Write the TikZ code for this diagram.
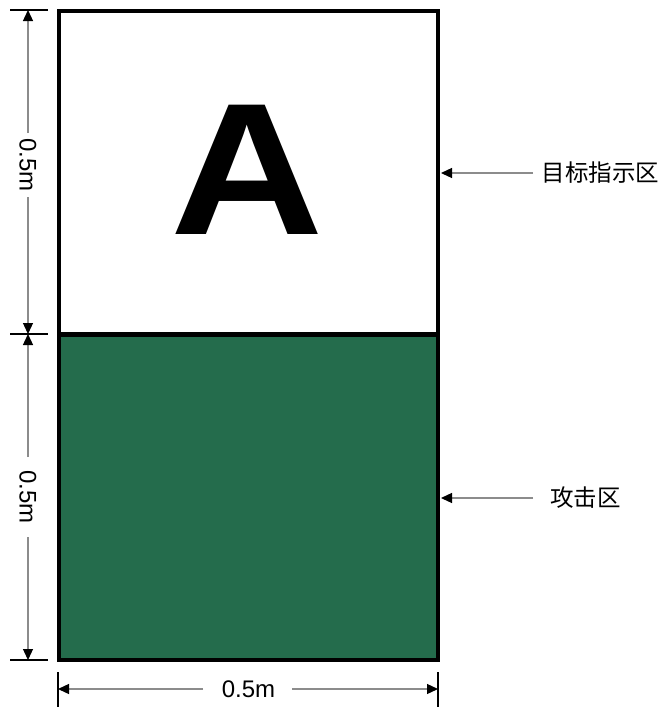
\documentclass[tikz,border=0pt]{standalone}
\usepackage{fontspec}
\setmainfont{Liberation Sans}
\newfontfamily\cjk{Noto Sans CJK SC}
\usetikzlibrary{arrows.meta}
\definecolor{zonegreen}{RGB}{36,108,76}
\definecolor{dimgray}{RGB}{140,140,140}
\tikzset{
  zone/.style={draw=black, line width=4.5pt},
  dimline/.style={draw=dimgray, line width=1.3pt, -{Triangle[length=11pt,width=10pt,color=black]}},
  tick/.style={draw=black, line width=1.6pt},
  dimtext/.style={font=\fontsize{24}{26}\selectfont, inner sep=0pt},
  cjklabel/.style={font=\cjk\fontsize{23.5}{25}\selectfont, inner sep=0pt},
  pointer/.style={draw=dimgray, line width=1.3pt, -{Triangle[length=11pt,width=10pt,color=black]}}
}
\begin{document}
\begin{tikzpicture}[x=1pt,y=-1pt]
\useasboundingbox (0,0) rectangle (664,707);
% corners
\coordinate (tl) at (59,11);
\coordinate (mr) at (438,334.5);
\coordinate (ml) at (59,334.5);
\coordinate (br) at (438,660);
% zones
\fill[white] (tl) rectangle (mr);
\fill[zonegreen] (ml) rectangle (br);
\draw[zone] (tl) rectangle (mr);
\draw[zone] (ml) rectangle (br);
\node[font=\bfseries\fontsize{188}{190}\selectfont, inner sep=0pt, xscale=1.13] (A) at (247,169.5) {A};
% vertical dimension
\coordinate (vt1) at (10,10); \coordinate (vt2) at (48,10);
\coordinate (vm1) at (10,334); \coordinate (vm2) at (48,334);
\coordinate (vb1) at (10,660); \coordinate (vb2) at (48,660);
\draw[tick] (vt1) -- (vt2);
\draw[tick] (vm1) -- (vm2);
\draw[tick] (vb1) -- (vb2);
\node[dimtext, rotate=-90] (d1) at (28,165) {0.5m};
\node[dimtext, rotate=-90] (d2) at (28,497) {0.5m};
\coordinate (v1a) at (28,133); \coordinate (v1b) at (28,197);
\coordinate (v2a) at (28,457); \coordinate (v2b) at (28,537);
\coordinate (vtop) at (28,10); \coordinate (vmid) at (28,334); \coordinate (vbot) at (28,660);
\draw[dimline] (v1a) -- (vtop);
\draw[dimline] (v1b) -- (vmid);
\draw[dimline] (v2a) -- (vmid);
\draw[dimline] (v2b) -- (vbot);
% horizontal dimension
\coordinate (hl1) at (58,672); \coordinate (hl2) at (58,707);
\coordinate (hr1) at (438,672); \coordinate (hr2) at (438,707);
\draw[tick] (hl1) -- (hl2);
\draw[tick] (hr1) -- (hr2);
\node[dimtext] (d3) at (248.5,689) {0.5m};
\coordinate (h1a) at (203,689); \coordinate (h1b) at (292,689);
\coordinate (hleft) at (58,689); \coordinate (hright) at (438,689);
\draw[dimline] (h1a) -- (hleft);
\draw[dimline] (h1b) -- (hright);
% labels
\node[cjklabel] (lab1) at (600.5,173) {目标指示区};
\node[cjklabel] (lab2) at (585.5,498) {攻击区};
\coordinate (p1s) at (533,173); \coordinate (p1e) at (441,173);
\coordinate (p2s) at (533,498); \coordinate (p2e) at (441,498);
\draw[pointer] (p1s) -- (p1e);
\draw[pointer] (p2s) -- (p2e);
\end{tikzpicture}
\end{document}
